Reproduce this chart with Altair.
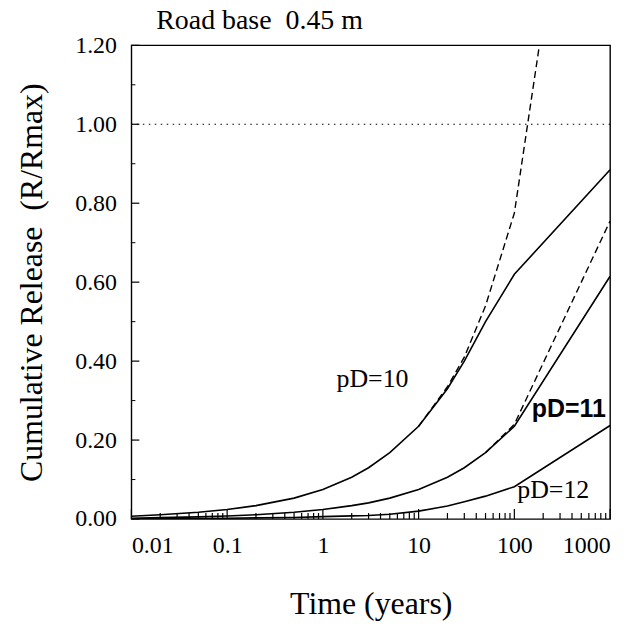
import altair as alt
import pandas as pd

# ---- data ----
times = [0.01, 0.02, 0.05, 0.1, 0.2, 0.5, 1, 2, 3, 5, 10, 20, 30, 50, 100, 1000]
pd10_solid = [0.007, 0.011, 0.017, 0.024, 0.034, 0.053, 0.075, 0.106, 0.13, 0.168, 0.235, 0.33, 0.40, 0.50, 0.62, 0.885]
pd11_solid = [0.002, 0.0035, 0.0055, 0.0075, 0.011, 0.017, 0.024, 0.034, 0.041, 0.053, 0.075, 0.106, 0.13, 0.168, 0.235, 0.615]
pd12_solid = [0.0007, 0.001, 0.0015, 0.002, 0.003, 0.004, 0.006, 0.008, 0.009, 0.012, 0.02, 0.033, 0.044, 0.058, 0.082, 0.237]

pd10_dash_t = [10, 20, 30, 50, 100, 1000]
pd10_dash_v = [0.235, 0.335, 0.41, 0.54, 0.775, 2.4]
pd11_dash_t = [50, 100, 1000]
pd11_dash_v = [0.168, 0.24, 0.755]

x_major = [0.01, 0.1, 1, 10, 100, 1000]
x_minor = [m * d for d in [0.01, 0.1, 1, 10, 100] for m in range(2, 10)]
y_major = [0, 0.2, 0.4, 0.6, 0.8, 1.0, 1.2]
y_minor = [0.1, 0.3, 0.5, 0.7, 0.9, 1.1]

labels = ["pD=10", "pD=11", "pD=12"]
label_t = [3.3, 370, 255]
label_v = [0.354, 0.278, 0.073]

title_text = "Road base\u00a0\u00a00.45 m"

W, H = 481, 476
SERIF = "Liberation Serif"

solid_df = pd.concat([
    pd.DataFrame({"t": times, "v": pd10_solid, "s": "pD=10"}),
    pd.DataFrame({"t": times, "v": pd11_solid, "s": "pD=11"}),
    pd.DataFrame({"t": times, "v": pd12_solid, "s": "pD=12"}),
])
dash_df = pd.concat([
    pd.DataFrame({"t": pd10_dash_t, "v": pd10_dash_v, "s": "pD=10"}),
    pd.DataFrame({"t": pd11_dash_t, "v": pd11_dash_v, "s": "pD=11"}),
])

xscale = alt.Scale(type="log", domain=[0.01, 1000], nice=False)
yscale = alt.Scale(domain=[0, 1.2], nice=False)

xenc = alt.X("t:Q", scale=xscale, axis=alt.Axis(
    values=x_major, format="~g", title="Time (years)", grid=False, ticks=False, domain=False,
    labelFont=SERIF, labelFontSize=24, labelColor="black", labelPadding=15,
    titleFont=SERIF, titleFontSize=32, titleFontWeight="normal", titleColor="black", titlePadding=31))
yenc = alt.Y("v:Q", scale=yscale, axis=alt.Axis(
    values=y_major, format=".2f", title="Cumulative Release\u00a0\u00a0(R/Rmax)",
    grid=False, ticks=False, domain=False,
    labelFont=SERIF, labelFontSize=24, labelColor="black", labelPadding=15,
    titleFont=SERIF, titleFontSize=32, titleFontWeight="normal", titleColor="black", titlePadding=26))

solid = alt.Chart(solid_df).mark_line(color="black", strokeWidth=1.6, clip=True).encode(
    x=xenc, y=yenc, detail="s:N")
dashed = alt.Chart(dash_df).mark_line(color="black", strokeWidth=1.4, strokeDash=[7, 4], clip=True).encode(
    x="t:Q", y="v:Q", detail="s:N")

ref = alt.Chart(pd.DataFrame({"v": [1.0]})).mark_rule(
    color="black", strokeWidth=1.2, strokeDash=[1.5, 4.5]).encode(y="v:Q")

xmaj = alt.Chart(pd.DataFrame({"t": x_major})).mark_rule(color="black", strokeWidth=1.2).encode(
    x="t:Q", y=alt.value(H), y2=alt.value(H - 10))
xmin = alt.Chart(pd.DataFrame({"t": x_minor})).mark_rule(color="black", strokeWidth=1.2).encode(
    x="t:Q", y=alt.value(H), y2=alt.value(H - 6))
ymaj = alt.Chart(pd.DataFrame({"v": y_major})).mark_rule(color="black", strokeWidth=1.2).encode(
    y="v:Q", x=alt.value(0), x2=alt.value(8))
ymin = alt.Chart(pd.DataFrame({"v": y_minor})).mark_rule(color="black", strokeWidth=1.0).encode(
    y="v:Q", x=alt.value(0), x2=alt.value(4))

lab_df = pd.DataFrame({"t": label_t, "v": label_v, "txt": labels})
lab_serif = alt.Chart(lab_df[lab_df.txt != "pD=11"]).mark_text(
    font=SERIF, fontSize=26, color="black", align="center", baseline="middle").encode(
    x="t:Q", y="v:Q", text="txt:N")
lab_bold = alt.Chart(lab_df[lab_df.txt == "pD=11"]).mark_text(
    font="Liberation Sans", fontSize=25, fontWeight="bold", color="black", align="center", baseline="middle").encode(
    x="t:Q", y="v:Q", text="txt:N")

title_mark = alt.Chart(pd.DataFrame({"txt": [title_text]})).mark_text(
    font=SERIF, fontSize=28, color="black", align="left", baseline="alphabetic").encode(
    text="txt:N", x=alt.value(25), y=alt.value(-16))

chart = alt.layer(solid, dashed, ref, xmaj, xmin, ymaj, ymin, lab_serif, lab_bold, title_mark).properties(
    width=W, height=H,
    padding={"left": 124, "top": 36, "right": 20, "bottom": 107},
    autosize="none",
).configure_view(stroke="black", strokeWidth=1.4)

chart.save("out.html", embed_options={"renderer": "svg", "actions": False})
